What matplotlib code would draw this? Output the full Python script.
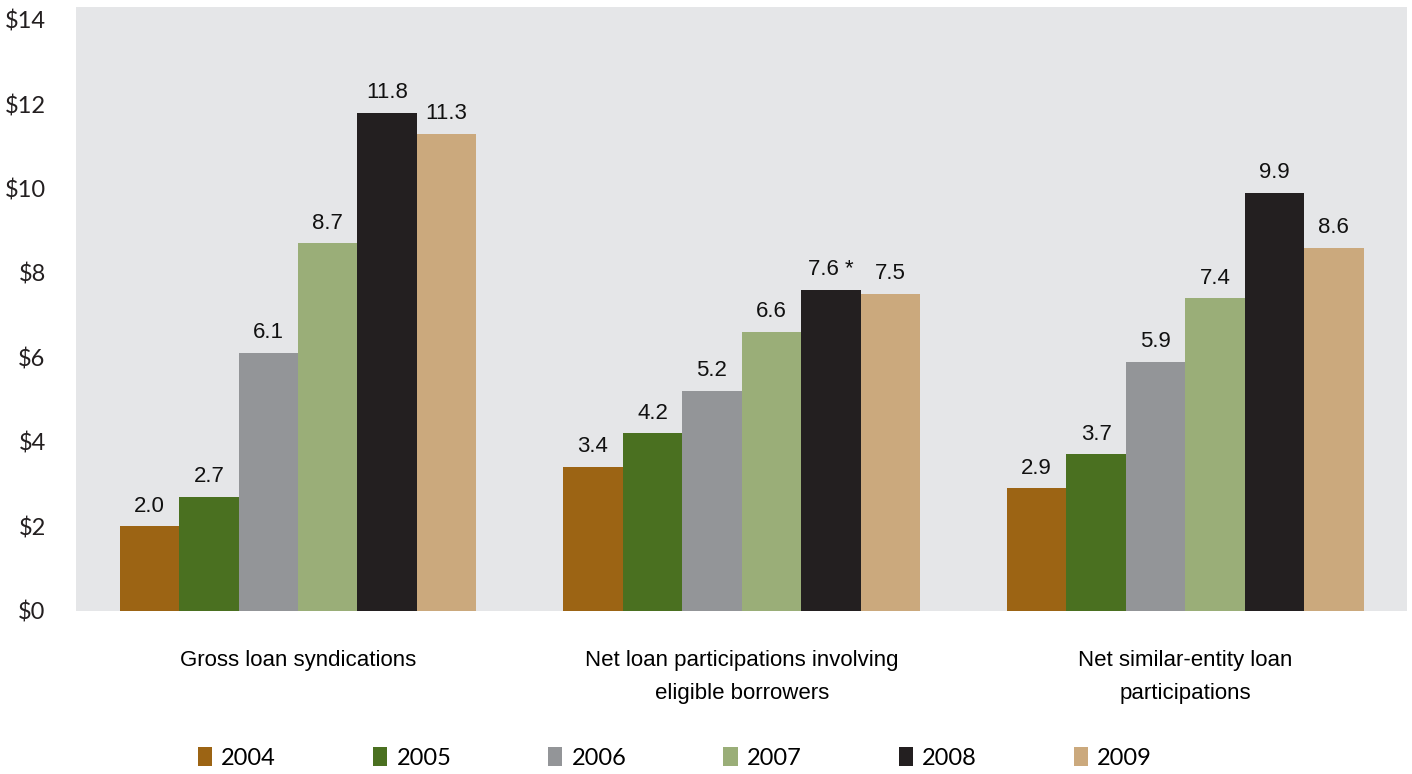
import matplotlib
matplotlib.use('Agg')
import matplotlib.pyplot as plt
import numpy as np

# data ($ billions)
categories = ['Gross loan syndications',
              'Net loan participations involving\neligible borrowers',
              'Net similar-entity loan\nparticipations']
years = ['2004', '2005', '2006', '2007', '2008', '2009']
v2004 = [2.0, 3.4, 2.9]
v2005 = [2.7, 4.2, 3.7]
v2006 = [6.1, 5.2, 5.9]
v2007 = [8.7, 6.6, 7.4]
v2008 = [11.8, 7.6, 9.9]
v2009 = [11.3, 7.5, 8.6]
notes2008 = ['', ' *', '']
yticks = [0, 2, 4, 6, 8, 10, 12, 14]

series = [v2004, v2005, v2006, v2007, v2008, v2009]
colors = ['#9c6414', '#4a7020', '#939598', '#9aae78', '#231f20', '#cba97d']

fig = plt.figure(figsize=(14.12, 7.74), dpi=100)
ax = fig.add_axes([0.054, 0.211, 0.9425, 0.78])
ax.set_facecolor('#e5e6e8')

x = np.arange(len(categories))
w = 0.134
handles = []
for i, vals in enumerate(series):
    pos = x + (i - 2.5) * w
    b = ax.bar(pos, vals, w, color=colors[i], label=years[i])
    handles.append(b)
    if i == 4:
        labs = ['%.1f%s' % (v, n) for v, n in zip(vals, notes2008)]
    else:
        labs = ['%.1f' % v for v in vals]
    ax.bar_label(b, labels=labs, padding=7, fontsize=16,
                 family='Liberation Sans', color='#111111')

ax.set_xlim(-0.5, 2.5)
ax.set_ylim(0, 14.3)
ax.set_yticks(yticks)
ax.set_yticklabels(['$%d' % t for t in yticks], family='Lato', fontsize=17, color='#231f20')
ax.set_xticks(x)
ax.set_xticklabels(categories, family='Liberation Sans', fontsize=16, linespacing=1.75)
ax.tick_params(axis='both', length=0)
ax.tick_params(axis='x', pad=28)
ax.tick_params(axis='y', pad=22)
for s in ax.spines.values():
    s.set_visible(False)

fig.legend(handles=handles, labels=years, loc='center', bbox_to_anchor=(0.478, 0.021),
           ncol=6, frameon=False, prop={'family': 'Lato', 'size': 17},
           handlelength=0.6, handleheight=0.9, handletextpad=0.4, columnspacing=4.1)

plt.savefig('out.png', dpi=100)
